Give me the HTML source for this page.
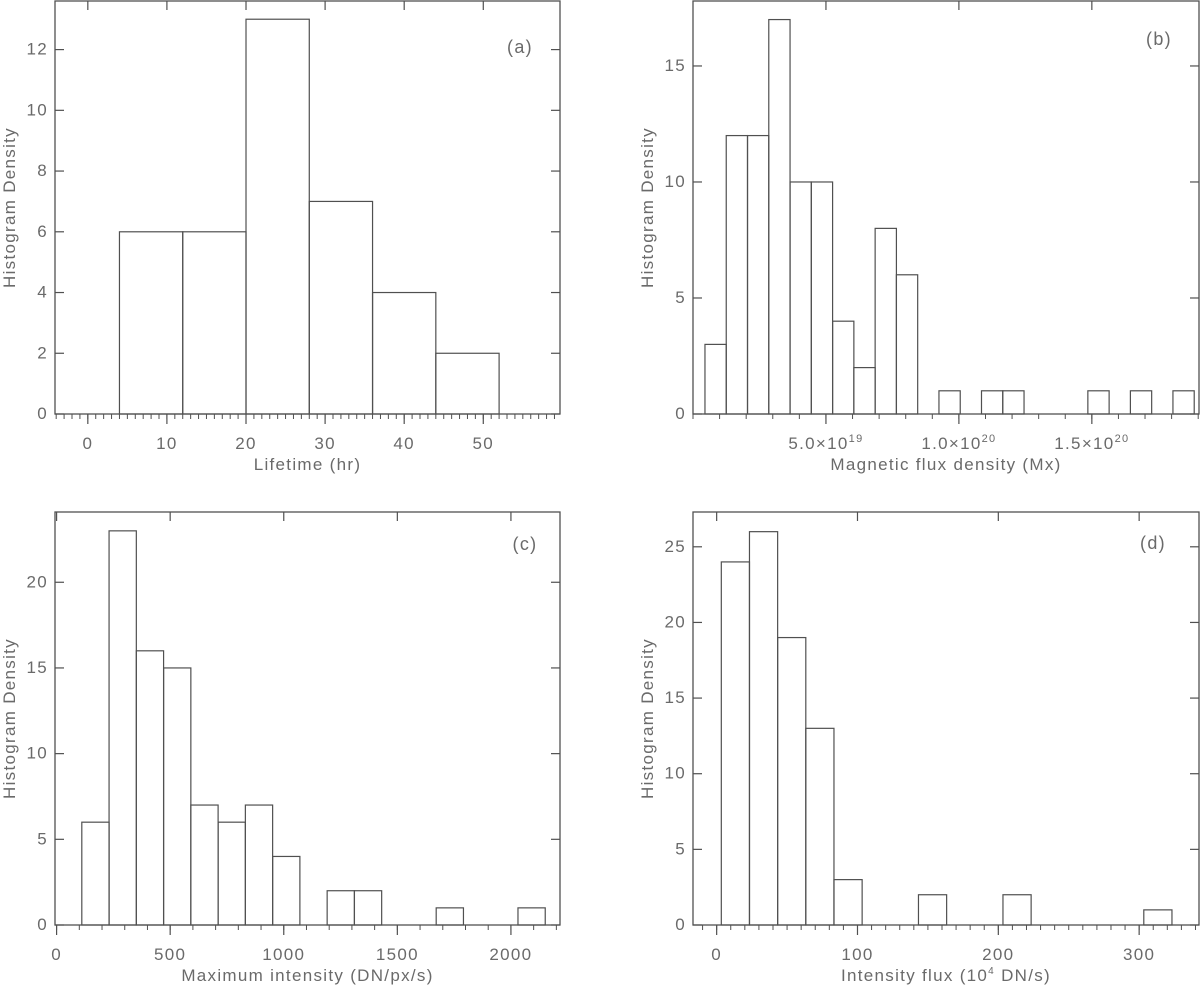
<!DOCTYPE html>
<html><head><meta charset="utf-8">
<style>
html,body{margin:0;padding:0;background:#fff;}
svg{display:block;font-family:"Liberation Sans",sans-serif;}
text{fill:#6a6a6a;letter-spacing:1.3px;}
</style></head>
<body>
<svg id="fig" width="1200" height="986" viewBox="0 0 1200 986" xmlns="http://www.w3.org/2000/svg"></svg>
<script>
// ---- Panel (a) data ----
const aBinStart = 4, aBinWidth = 8;
const aCounts = [6, 6, 13, 7, 4, 2];
const aXTicks = [0, 10, 20, 30, 40, 50];
const aXTickLabels = ["0", "10", "20", "30", "40", "50"];
const aYTicks = [0, 2, 4, 6, 8, 10, 12];
const aYTickLabels = ["0", "2", "4", "6", "8", "10", "12"];
// ---- Panel (b) data ----
const bBinStart = 0.45e19, bBinWidth = 0.8e19;
const bCounts = [3, 12, 12, 17, 10, 10, 4, 2, 8, 6, 0, 1, 0, 1, 1, 0, 0, 0, 1, 0, 1, 0, 1];
const bXTicks = [5e19, 1e20, 1.5e20];
const bXTickMant = ["5.0×10", "1.0×10", "1.5×10"];
const bXTickExp = ["19", "20", "20"];
const bYTicks = [0, 5, 10, 15];
const bYTickLabels = ["0", "5", "10", "15"];
// ---- Panel (c) data ----
const cBinStart = 111, cBinWidth = 120;
const cCounts = [6, 23, 16, 15, 7, 6, 7, 4, 0, 2, 2, 0, 0, 1, 0, 0, 1];
const cXTicks = [0, 500, 1000, 1500, 2000];
const cXTickLabels = ["0", "500", "1000", "1500", "2000"];
const cYTicks = [0, 5, 10, 15, 20];
const cYTickLabels = ["0", "5", "10", "15", "20"];
// ---- Panel (d) data ----
const dBinStart = 3.3, dBinWidth = 20;
const dCounts = [24, 26, 19, 13, 3, 0, 0, 2, 0, 0, 2, 0, 0, 0, 0, 1];
const dXTicks = [0, 100, 200, 300];
const dXTickLabels = ["0", "100", "200", "300"];
const dYTicks = [0, 5, 10, 15, 20, 25];
const dYTickLabels = ["0", "5", "10", "15", "20", "25"];

const NS = "http://www.w3.org/2000/svg";
const svg = document.getElementById("fig");
const LINE = "#505050";
const FS = 17;
function mk(tag, attrs, parent){const e=document.createElementNS(NS,tag);for(const k in attrs)e.setAttribute(k,attrs[k]);(parent||svg).appendChild(e);return e;}

function panel(cfg){
  const g = mk("g",{});
  
  
  const {L,R,T,B,xmin,xmax,ymin,ymax} = cfg;
  const sx = v => L + (v - xmin) / (xmax - xmin) * (R - L);
  const sy = v => B - (v - ymin) / (ymax - ymin) * (B - T);
  cfg.counts.forEach((c,i)=>{
    if(c<=0) return;
    const x0 = sx(cfg.binStart + i*cfg.binWidth), x1 = sx(cfg.binStart + (i+1)*cfg.binWidth);
    const r = mk("rect",{x:x0,y:sy(c),width:x1-x0,height:sy(0)-sy(c),fill:"none",stroke:LINE,"stroke-width":1.2},g);
    
    
  });
  const f = mk("rect",{x:L,y:T,width:R-L,height:B-T,fill:"none",stroke:LINE,"stroke-width":1.3},g);
  
  
  for(let v=Math.ceil(xmin/cfg.minor)*cfg.minor; v<=xmax; v+=cfg.minor){
    const x=sx(v);
    mk("line",{x1:x,y1:B,x2:x,y2:B+5,stroke:LINE,"stroke-width":1},g);
  }
  cfg.xTicks.forEach(v=>{
    const x=sx(v);
    mk("line",{x1:x,y1:B,x2:x,y2:B+10,stroke:LINE,"stroke-width":1.2},g);
    mk("line",{x1:x,y1:T,x2:x,y2:T+9,stroke:LINE,"stroke-width":1.2},g);
  });
  cfg.xTicks.forEach((v,i)=>{
    const t = mk("text",{x:sx(v),y:cfg.xLabY,"text-anchor":"middle","font-size":FS},g);
    
    
    t.textContent = cfg.xLabels[i];
    if(cfg.xExp){
      const s = mk("tspan",{"font-size":11,dy:-7},t);
      s.textContent = cfg.xExp[i];
    }
  });
  cfg.yTicks.forEach((v,i)=>{
    const y=sy(v);
    mk("line",{x1:L,y1:y,x2:L+9,y2:y,stroke:LINE,"stroke-width":1.2},g);
    mk("line",{x1:R,y1:y,x2:R-9,y2:y,stroke:LINE,"stroke-width":1.2},g);
    const t = mk("text",{x:L-7,y:y+5,"text-anchor":"end","font-size":FS},g);
    
    
    t.textContent = cfg.yLabels[i];
  });
  const xt = mk("text",{x:(L+R)/2,y:cfg.xTitleY,"text-anchor":"middle","font-size":FS},g);
  
  
  xt.textContent = cfg.xTitle;
  if(cfg.xTitleExp){
    xt.textContent = "Intensity flux (10";
    const s = mk("tspan",{"font-size":10,dy:-7},xt); s.textContent = "4";
    const s2 = mk("tspan",{dy:7},xt); s2.textContent = " DN/s)";
  }
  const yt = mk("text",{x:0,y:0,"text-anchor":"middle","font-size":FS,transform:`translate(${cfg.yTitleX},${(T+B)/2}) rotate(-90)`},g);
  
  
  yt.textContent = "Histogram Density";
  const pl = mk("text",{x:cfg.lab[0],y:cfg.lab[1],"text-anchor":"middle","font-size":18},g);
  
  
  pl.textContent = cfg.label;
}

panel({name:"panel-a-lifetime",L:55,R:560,T:1,B:414,xmin:-4.15,xmax:59.7,ymin:0,ymax:13.6,
  counts:aCounts,binStart:aBinStart,binWidth:aBinWidth,minor:1,
  xTicks:aXTicks,xLabels:aXTickLabels,yTicks:aYTicks,yLabels:aYTickLabels,
  xLabY:449,xTitleY:470,xTitle:"Lifetime (hr)",yTitleX:15,lab:[520,53],label:"(a)"});
panel({name:"panel-b-magnetic-flux",L:693,R:1199,T:1,B:414,xmin:0,xmax:1.903e20,ymin:0,ymax:17.8,
  counts:bCounts,binStart:bBinStart,binWidth:bBinWidth,minor:1e19,
  xTicks:bXTicks,xLabels:bXTickMant,xExp:bXTickExp,yTicks:bYTicks,yLabels:bYTickLabels,
  xLabY:449,xTitleY:470,xTitle:"Magnetic flux density (Mx)",yTitleX:653,lab:[1159,45],label:"(b)"});
panel({name:"panel-c-max-intensity",L:55,R:560,T:512,B:925,xmin:-7,xmax:2216,ymin:0,ymax:24.1,
  counts:cCounts,binStart:cBinStart,binWidth:cBinWidth,minor:100,
  xTicks:cXTicks,xLabels:cXTickLabels,yTicks:cYTicks,yLabels:cYTickLabels,
  xLabY:960,xTitleY:981,xTitle:"Maximum intensity (DN/px/s)",yTitleX:15,lab:[525,550],label:"(c)"});
panel({name:"panel-d-intensity-flux",L:693,R:1199,T:512,B:925,xmin:-16.8,xmax:342.5,ymin:0,ymax:27.3,
  counts:dCounts,binStart:dBinStart,binWidth:dBinWidth,minor:10,
  xTicks:dXTicks,xLabels:dXTickLabels,yTicks:dYTicks,yLabels:dYTickLabels,
  xLabY:960,xTitleY:981,xTitle:"Intensity flux",xTitleExp:true,yTitleX:653,lab:[1153,549],label:"(d)"});
</script>
</body></html>
